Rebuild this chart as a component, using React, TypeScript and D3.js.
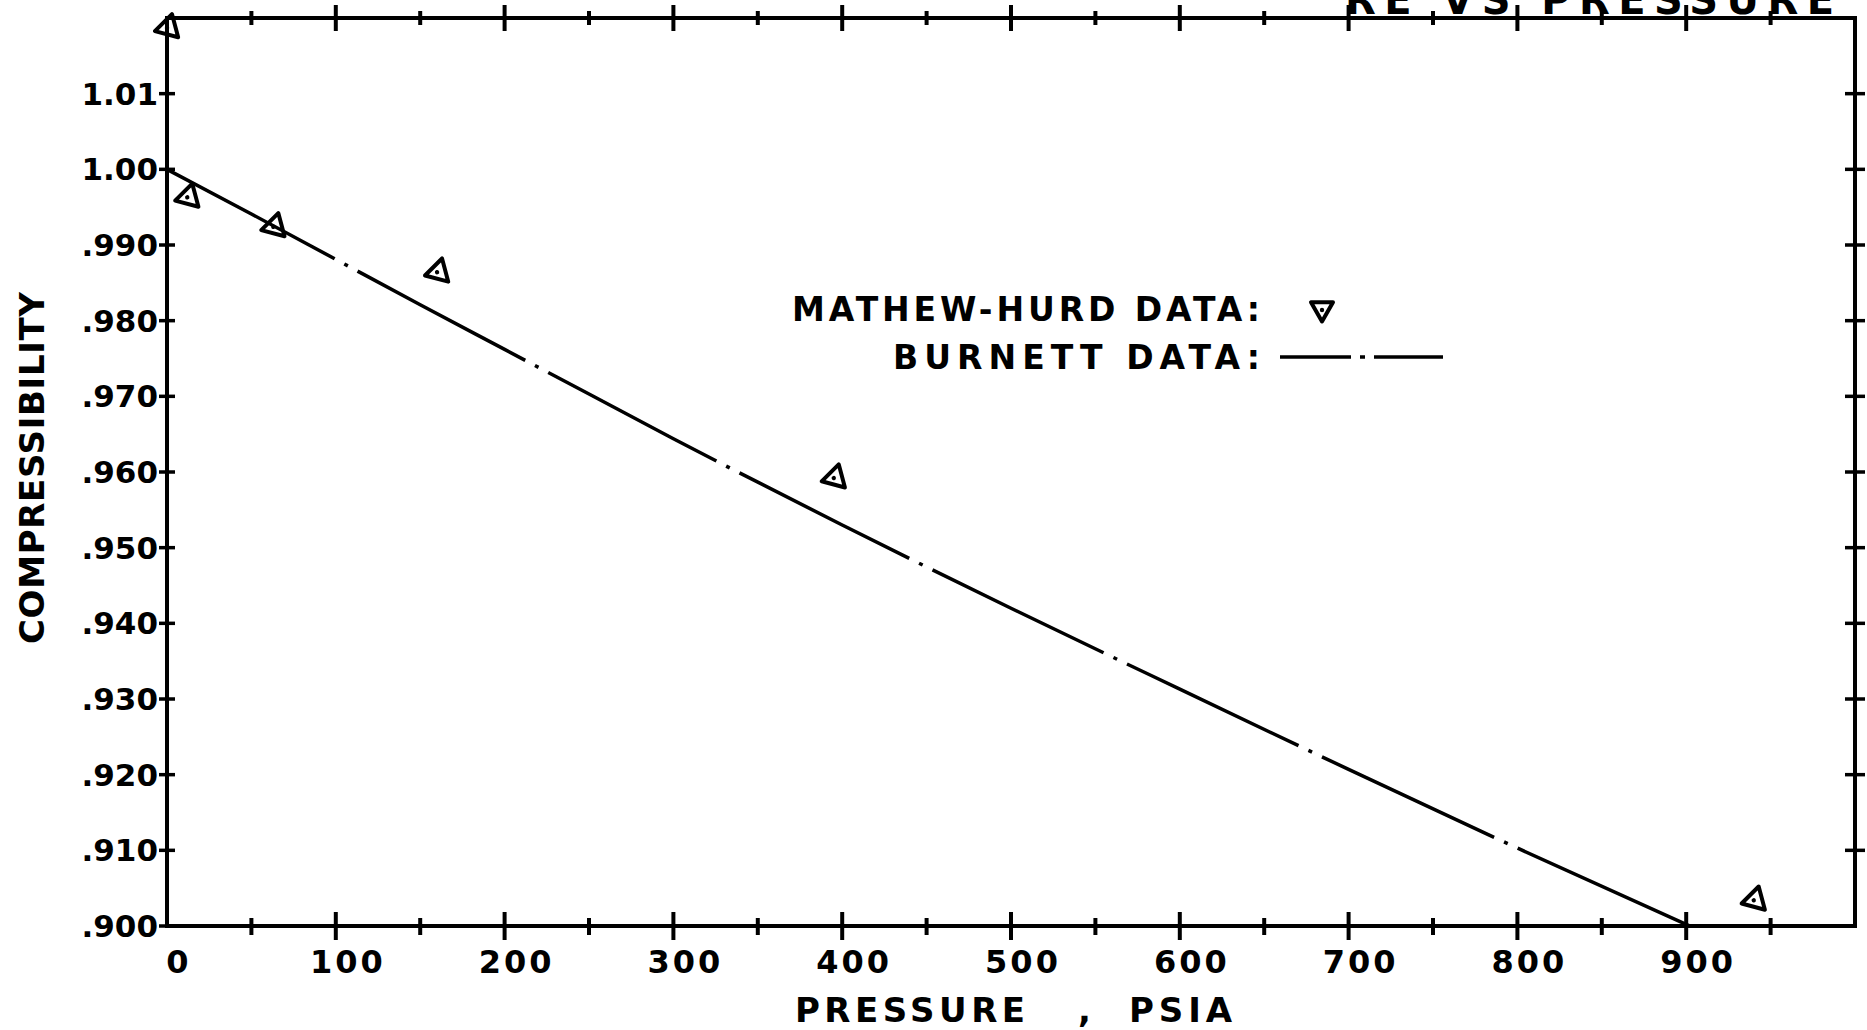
import React from "react";
import * as d3 from "d3";

// Burnett data (dash-dot line), pressure psia vs compressibility
const burnettPressure = [0, 50, 100, 150, 200, 250, 300, 400, 500, 600, 700, 800, 902];
const burnettZ = [1.0, 0.9941, 0.9881, 0.9821, 0.9762, 0.9703, 0.9644, 0.953, 0.942, 0.9313, 0.9207, 0.9103, 0.9];

// Mathew-Hurd data (triangles)
const hurdPressure = [0, 12, 63, 160, 395, 940];
const hurdZ = [1.0187, 0.9963, 0.9924, 0.9864, 0.9592, 0.9034];

const xTickLabels = ["0", "100", "200", "300", "400", "500", "600", "700", "800", "900"];
const yTickValues = [1.01, 1.0, 0.99, 0.98, 0.97, 0.96, 0.95, 0.94, 0.93, 0.92, 0.91, 0.9];
const yTickLabels = ["1.01", "1.00", ".990", ".980", ".970", ".960", ".950", ".940", ".930", ".920", ".910", ".900"];

const W = 1867;
const H = 1030;
const FONT = "'DejaVu Sans', Verdana, sans-serif";

const App = () => {
  const x = d3.scaleLinear().domain([0, 1000]).range([167, 1855]);
  const y = d3.scaleLinear().domain([0.9, 1.02]).range([926, 18]);

  const line = d3
    .line<number>()
    .x((d, i) => x(burnettPressure[i]))
    .y((d) => y(d))
    .curve(d3.curveMonotoneX);

  const minorX = d3.range(50, 1000, 100);
  const majorX = d3.range(100, 1000, 100);
  const rightTicks = d3.range(0.91, 1.015, 0.01);

  // triangle pointing left, centred on 0,0
  const tri = (size: number) => {
    const h = size * 0.87;
    return `M${-h * 0.6},0 L${h * 0.4},${-size / 2} L${h * 0.4},${size / 2} Z`;
  };

  const [x0, x1] = x.range();
  const [yb, yt] = y.range();

  return (
    <svg
      width={W}
      height={H}
      style={{ position: "absolute", left: 0, top: 0, background: "#fff" }}
      fontFamily={FONT}
      fontWeight="bold"
    >
      {/* title, cut off at the top edge as in the scan */}
      <text x={1834} y={14} fontSize={40} textAnchor="end" textLength={489} lengthAdjust="spacing">
        RE VS PRESSURE
      </text>

      {/* frame */}
      <rect x={x0} y={yt} width={x1 - x0} height={yb - yt} fill="none" stroke="#000" strokeWidth={4} />

      {/* x ticks, bottom and top */}
      {majorX.map((v) => (
        <g key={"mx" + v}>
          <line x1={x(v)} x2={x(v)} y1={yb - 14} y2={yb + 14} stroke="#000" strokeWidth={4} />
          <line x1={x(v)} x2={x(v)} y1={yt - 13} y2={yt + 13} stroke="#000" strokeWidth={4} />
        </g>
      ))}
      {minorX.map((v) => (
        <g key={"nx" + v}>
          <line x1={x(v)} x2={x(v)} y1={yb - 8} y2={yb + 9} stroke="#000" strokeWidth={4} />
          <line x1={x(v)} x2={x(v)} y1={yt - 7} y2={yt + 7} stroke="#000" strokeWidth={4} />
        </g>
      ))}

      {/* y ticks left and right */}
      {yTickValues.map((v) => (
        <line key={"ly" + v} x1={x0 - 8} x2={x0 + 8} y1={y(v)} y2={y(v)} stroke="#000" strokeWidth={3.5} />
      ))}
      {rightTicks.map((v) => (
        <line key={"ry" + v} x1={x1 - 10} x2={x1 + 10} y1={y(v)} y2={y(v)} stroke="#000" strokeWidth={3.5} />
      ))}

      {/* x tick labels */}
      {xTickLabels.map((t, i) => (
        <text key={"xl" + t} x={x(i * 100) + 12} y={973} fontSize={32} textAnchor="middle" letterSpacing={3}>
          {t}
        </text>
      ))}

      {/* y tick labels */}
      {yTickLabels.map((t, i) => (
        <text key={"yl" + t} x={158} y={y(yTickValues[i]) + 11} fontSize={31} textAnchor="end">
          {t}
        </text>
      ))}

      {/* axis titles */}
      <text x={795} y={1022} fontSize={34} textLength={230} lengthAdjust="spacing">
        PRESSURE
      </text>
      <text x={1078} y={1022} fontSize={34}>
        ,
      </text>
      <text x={1129} y={1022} fontSize={34} textLength={103} lengthAdjust="spacing">
        PSIA
      </text>
      <text
        transform="translate(44,468) rotate(-90)"
        fontSize={34}
        textAnchor="middle"
        textLength={352}
        lengthAdjust="spacing"
      >
        COMPRESSIBILITY
      </text>

      {/* Burnett line */}
      <path d={line(burnettZ) || ""} fill="none" stroke="#000" strokeWidth={3.5} strokeDasharray="190 11 4 11" />

      {/* Mathew-Hurd markers */}
      {hurdPressure.map((p, i) => (
        <g key={"h" + i} transform={`translate(${x(p)},${y(hurdZ[i])}) rotate(-15)`}>
          <path d={tri(24)} fill="none" stroke="#000" strokeWidth={4} strokeLinejoin="round" />
          <circle r={2.2} fill="#000" />
        </g>
      ))}

      {/* legend */}
      <text x={792} y={321} fontSize={33} textLength={468} lengthAdjust="spacing">
        MATHEW-HURD DATA:
      </text>
      <g transform="translate(1322,310) rotate(-90)">
        <path d={tri(22)} fill="none" stroke="#000" strokeWidth={4} strokeLinejoin="round" />
        <circle r={2.2} fill="#000" />
      </g>
      <text x={893} y={369} fontSize={33} textLength={367} lengthAdjust="spacing">
        BURNETT DATA:
      </text>
      <line x1={1280} x2={1443} y1={357} y2={357} stroke="#000" strokeWidth={3.5} strokeDasharray="71 9 5 9 80" />
    </svg>
  );
};

export default App;
